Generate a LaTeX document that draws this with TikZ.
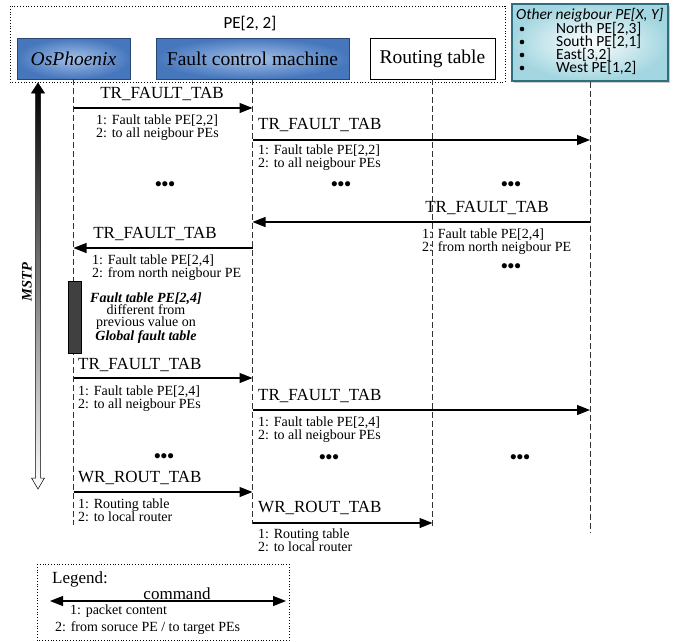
\documentclass[tikz,border=0pt]{standalone}
\usepackage{fontspec}
\setmainfont{Liberation Serif}
\newfontfamily\calib{Carlito}
\usetikzlibrary{arrows.meta,shadows}
\definecolor{boxblue}{HTML}{4677BD}
\definecolor{boxbluelight}{HTML}{A4C0E8}
\definecolor{boxborder}{HTML}{2A4570}
\definecolor{tealborder}{HTML}{2F6E7E}
\definecolor{tealfill}{HTML}{A3D6E0}
\definecolor{actgray}{HTML}{404040}
\begin{document}
\begin{tikzpicture}[x=1pt,y=-1pt,
  bluebox/.style={draw=boxborder, line width=0.9pt, inner color=boxbluelight, outer color=boxblue, inner sep=0pt, font=\fontsize{19.5}{20}\selectfont},
  whitebox/.style={draw=black, line width=0.6pt, fill=white, inner sep=0pt, font=\fontsize{19.5}{20}\selectfont},
  lifeline/.style={draw=black!80, line width=0.6pt, dash pattern=on 6pt off 3pt},
  msg/.style={line width=1.1pt, -{Triangle[length=13pt,width=10pt]}},
  cmd/.style={font=\fontsize{17}{17}\selectfont, inner sep=0pt},
  note/.style={font=\fontsize{14}{13}\selectfont, align=left, inner sep=0pt, anchor=north west},
  dotsn/.style={font=\fontsize{19}{19}\selectfont\bfseries, inner sep=0pt},
  otxt/.style={font=\calib\fontsize{15.5}{13.3}\selectfont, inner sep=0pt, anchor=west},
  obul/.style={circle, fill=black, inner sep=0pt, minimum size=4.6pt}
]
\useasboundingbox (0,0) rectangle (678,641);

% PE[2,2] group
\draw[dotted, line width=0.8pt] (10,6) rectangle (505,82);
\node[font=\calib\fontsize{17}{17}\selectfont, inner sep=0pt] (pe) at (250,24) {PE[2, 2]};

% heads
\node[bluebox, minimum width=113pt, minimum height=41pt] (os) at (73.5,58.5) {\itshape OsPhoenix};
\node[bluebox, minimum width=193pt, minimum height=41pt] (fcm) at (252.5,58.5) {Fault control machine};
\node[whitebox, minimum width=125pt, minimum height=41pt] (rt) at (432.5,58.5) {Routing table};
\node[draw=tealborder, line width=2pt, inner color=white, outer color=tealfill,
      minimum width=156pt, minimum height=77pt, inner sep=0pt,
      drop shadow={shadow xshift=1.5pt, shadow yshift=-1.5pt, opacity=0.4}] (ot) at (590,42.5) {};
\node[otxt] (ott) at (516,15.5) {\itshape Other neigbour PE[X, Y]};
\node[obul] (b1) at (522,29) {};
\node[obul] (b2) at (522,42) {};
\node[obul] (b3) at (522,55) {};
\node[obul] (b4) at (522,68) {};
\node[otxt] (t1) at (556,29) {North PE[2,3]};
\node[otxt] (t2) at (556,42) {South PE[2,1]};
\node[otxt] (t3) at (556,55) {East[3,2]};
\node[otxt] (t4) at (556,68) {West PE[1,2]};

% lifelines
\coordinate (osE) at (73.5,525);
\coordinate (fcmE) at (252.5,524);
\coordinate (rtE) at (432.5,526);
\coordinate (otE) at (590,533);
\draw[lifeline] (os.south) -- (osE);
\draw[lifeline] (fcm.south) -- (fcmE);
\draw[lifeline] (rt.south) -- (rtE);
\draw[lifeline] (ot.south) -- (otE);

% MSTP arrow
\shade[top color=black, bottom color=white, draw=black, line width=0.5pt]
  (38,83) -- (44.5,93) -- (40.5,93) -- (40.5,478) -- (44.5,478) -- (38,489)
  -- (31.5,478) -- (35.5,478) -- (35.5,93) -- (31.5,93) -- cycle;
\node[rotate=90, font=\fontsize{14.5}{15}\selectfont\bfseries\itshape, inner sep=0pt] (mstp) at (27,282) {MSTP};

% message 1
\coordinate (m1a) at (73.5,108); \coordinate (m1b) at (252.5,108);
\draw[msg] (m1a) -- (m1b);
\node[cmd] (l1) at (162,94) {TR\_FAULT\_TAB};
\node[note] (n1) at (96,115) {1: Fault table PE[2,2]\\2: to all neigbour PEs};

% message 2
\coordinate (m2a) at (252.5,140); \coordinate (m2b) at (590,140);
\draw[msg] (m2a) -- (m2b);
\node[cmd, anchor=west] (l2) at (258,125) {TR\_FAULT\_TAB};
\node[note] (n2) at (258,145) {1: Fault table PE[2,2]\\2: to all neigbour PEs};

% dots row 1
\node[dotsn] (d1) at (165,186) {•••};
\node[dotsn] (d2) at (341,186) {•••};
\node[dotsn] (d3) at (511,186) {•••};

% message 4
\coordinate (m4a) at (590,222); \coordinate (m4b) at (252.5,222);
\draw[msg] (m4a) -- (m4b);
\node[cmd] (l4) at (487,208) {TR\_FAULT\_TAB};
\node[note] (n4) at (422,229) {1: Fault table PE[2,4]\\2: from north neigbour PE};
\node[dotsn] (d4) at (511,268) {•••};

% message 5
\coordinate (m5a) at (252.5,248); \coordinate (m5b) at (73.5,248);
\draw[msg] (m5a) -- (m5b);
\node[cmd] (l5) at (155,234) {TR\_FAULT\_TAB};
\node[note] (n5) at (92,255) {1: Fault table PE[2,4]\\2: from north neigbour PE};

% activation
\node[draw=black, fill=actgray, line width=0.6pt, minimum width=13pt, minimum height=72pt, inner sep=0pt] (act) at (74.5,317) {};
\node[font=\fontsize{14}{12.3}\selectfont, align=center, inner sep=0pt] (ft) at (146,318)
  {\textbf{\textit{Fault table PE[2,4]}}\\different from\\previous value on\\\textbf{\textit{Global fault table}}};

% message 7
\coordinate (m7a) at (73.5,378); \coordinate (m7b) at (252.5,378);
\draw[msg] (m7a) -- (m7b);
\node[cmd, anchor=west] (l7) at (78,365) {TR\_FAULT\_TAB};
\node[note] (n7) at (78,386) {1: Fault table PE[2,4]\\2: to all neigbour PEs};

% message 8
\coordinate (m8a) at (252.5,410); \coordinate (m8b) at (590,410);
\draw[msg] (m8a) -- (m8b);
\node[cmd, anchor=west] (l8) at (258,396) {TR\_FAULT\_TAB};
\node[note] (n8) at (258,417) {1: Fault table PE[2,4]\\2: to all neigbour PEs};

% dots row 2
\node[dotsn] (d5) at (164,458) {•••};
\node[dotsn] (d6) at (329,459) {•••};
\node[dotsn] (d7) at (520,459) {•••};

% message 10
\coordinate (m10a) at (73.5,492); \coordinate (m10b) at (252.5,492);
\draw[msg] (m10a) -- (m10b);
\node[cmd, anchor=west] (l10) at (78,478) {WR\_ROUT\_TAB};
\node[note] (n10) at (78,499) {1: Routing table\\2: to local router};

% message 11
\coordinate (m11a) at (252.5,523); \coordinate (m11b) at (432.5,523);
\draw[msg] (m11a) -- (m11b);
\node[cmd, anchor=west] (l11) at (258,508) {WR\_ROUT\_TAB};
\node[note] (n11) at (258,529) {1: Routing table\\2: to local router};

% legend
\draw[dotted, line width=0.8pt] (37,564) rectangle (289,640);
\node[cmd, anchor=west] (lg) at (52,579) {Legend:};
\coordinate (lgA) at (50,601); \coordinate (lgB) at (286,601);
\draw[line width=1.1pt, {Triangle[length=13pt,width=10pt]}-{Triangle[length=13pt,width=10pt]}] (lgA) -- (lgB);
\node[cmd] (lgc) at (177,594) {command};
\node[font=\fontsize{14}{13}\selectfont, inner sep=0pt, anchor=west] (lg1) at (70,611) {1: packet content};
\node[font=\fontsize{14}{13}\selectfont, inner sep=0pt, anchor=west] (lg2) at (55,628) {2: from soruce PE / to target PEs};
\end{tikzpicture}
\end{document}
